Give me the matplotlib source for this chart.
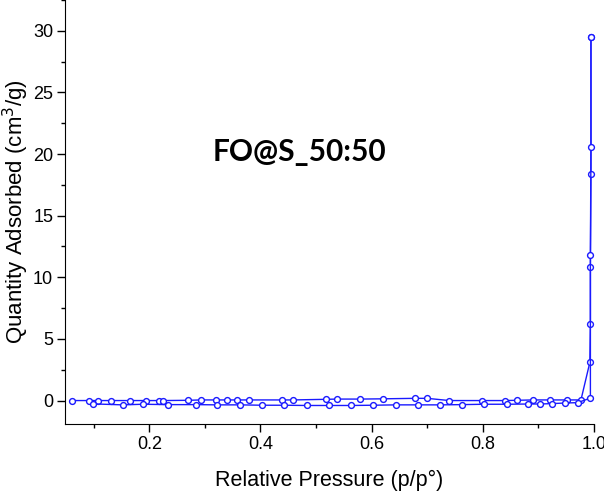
import matplotlib
matplotlib.use("Agg")
import matplotlib.pyplot as plt
from matplotlib.ticker import MultipleLocator

# adsorption branch (upper trace near zero, then the steep rise)
ads_p = [0.061, 0.092, 0.107, 0.131, 0.165, 0.193, 0.217, 0.224, 0.269, 0.293,
         0.319, 0.339, 0.358, 0.379, 0.439, 0.459, 0.518, 0.537, 0.579, 0.620,
         0.679, 0.700, 0.740, 0.799, 0.840, 0.861, 0.891, 0.921, 0.951, 0.977,
         0.993, 0.994, 0.994, 0.995, 0.995]
ads_q = [0.0, 0.0, 0.0, 0.0, 0.0, 0.0, 0.0, 0.0, 0.02, 0.05,
         0.05, 0.05, 0.05, 0.05, 0.05, 0.05, 0.1, 0.12, 0.12, 0.14,
         0.18, 0.18, 0.0, 0.0, 0.0, 0.02, 0.05, 0.05, 0.05, 0.05,
         3.1, 6.2, 10.8, 18.4, 29.5]

# desorption branch (from the top back down along the lower trace)
des_p = [0.995, 0.995, 0.994, 0.994, 0.971, 0.948, 0.924, 0.903, 0.882, 0.843,
         0.803, 0.763, 0.724, 0.684, 0.644, 0.602, 0.563, 0.523, 0.483, 0.443,
         0.403, 0.363, 0.322, 0.283, 0.233, 0.188, 0.152, 0.098]
des_q = [29.5, 20.6, 11.8, 0.2, -0.17, -0.2, -0.25, -0.28, -0.28, -0.3,
         -0.3, -0.33, -0.35, -0.35, -0.35, -0.38, -0.4, -0.4, -0.4, -0.38,
         -0.38, -0.35, -0.35, -0.33, -0.33, -0.3, -0.35, -0.27]

sample_name = "FO@S_50:50"

plt.rcParams["font.family"] = ["Liberation Sans", "DejaVu Sans"]

fig = plt.figure(figsize=(6.04, 4.95), dpi=100)
ax = fig.add_axes([0.1076, 0.1435, 0.8754, 0.8565])

style = dict(color="#1a1aff", linewidth=1.0, marker="o", markersize=4.2,
             markerfacecolor="white", markeredgecolor="#1a1aff",
             markeredgewidth=1.0, clip_on=False)
ax.plot(ads_p, ads_q, **style)
ax.plot(des_p, des_q, **style)

ax.set_xlim(0.048, 1.0)
ax.set_ylim(-1.9, 32.5)

ax.xaxis.set_major_locator(MultipleLocator(0.2))
ax.xaxis.set_minor_locator(MultipleLocator(0.1))
ax.yaxis.set_major_locator(MultipleLocator(5))
ax.yaxis.set_minor_locator(MultipleLocator(2.5))
ax.set_xticks([0.2, 0.4, 0.6, 0.8, 1.0])
ax.set_xticklabels(["0.2", "0.4", "0.6", "0.8", "1.0"])

ax.spines["top"].set_visible(False)
ax.spines["right"].set_visible(False)
ax.tick_params(which="major", direction="out", length=5.5, width=1,
               labelsize=13, pad=3)
ax.tick_params(which="minor", direction="out", length=3, width=1)

ax.set_xlabel("Relative Pressure (p/p°)", fontsize=15.5, labelpad=12)
ax.set_ylabel("Quantity Adsorbed (cm$^3$/g)", fontsize=16, labelpad=1.5)

ax.text(0.471, 20.2, sample_name, fontsize=21.5, fontweight="bold",
        family=["Lato", "DejaVu Sans"], ha="center", va="center")

fig.savefig("out.png", dpi=100)
